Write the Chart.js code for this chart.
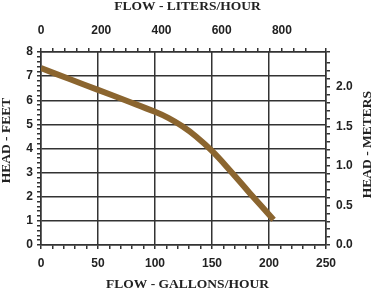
<!DOCTYPE html>
<html><head><meta charset="utf-8">
<script src="https://cdn.jsdelivr.net/npm/chart.js@4/dist/chart.umd.min.js"></script>
<style>html,body{margin:0;padding:0;background:#fff}#wrap{width:377px;height:293px}</style>
</head><body><div id="wrap"><canvas id="c" width="377" height="293"></canvas></div>
<script>
const flowGph = [0, 25, 50, 75, 100, 112, 124, 136, 150, 166, 183, 204];
const headFt  = [7.33, 6.88, 6.43, 5.98, 5.52, 5.26, 4.92, 4.50, 3.90, 3.08, 2.16, 1.05];
const gphTicks = [0, 50, 100, 150, 200, 250];
const ftTicks = [0, 1, 2, 3, 4, 5, 6, 7, 8];
const lphTicks = [0, 200, 400, 600, 800];
const mTicks = [0.0, 0.5, 1.0, 1.5, 2.0];
const titles = {
  top: 'FLOW - LITERS/HOUR',
  bottom: 'FLOW - GALLONS/HOUR',
  left: 'HEAD - FEET',
  right: 'HEAD - METERS'
};

const GPH_TO_LPH = 3.78541, FT_TO_M = 0.3048;
const INK = '#333';
const isMajor = (v, m) => Math.abs(v / m - Math.round(v / m)) < 1e-6;
const tickFont = {family: '"Liberation Sans", Arial, sans-serif', size: 12, weight: 'bold'};

const axisTitles = {
  id: 'axisTitles',
  afterDraw(chart) {
    const ctx = chart.ctx, a = chart.chartArea;
    const cx = (a.left + a.right) / 2 + 4, cy = (a.top + a.bottom) / 2;
    ctx.save();
    ctx.font = 'bold 13.5px "Liberation Serif", "Times New Roman", serif';
    ctx.fillStyle = '#222';
    ctx.textAlign = 'center';
    ctx.textBaseline = 'middle';
    ctx.fillText(titles.top, cx, 6.5);
    ctx.fillText(titles.bottom, cx, 285);
    ctx.save();
    ctx.translate(7, cy - 8);
    ctx.rotate(-Math.PI / 2);
    ctx.fillText(titles.left, 0, 0);
    ctx.restore();
    ctx.save();
    ctx.translate(368, cy - 4);
    ctx.rotate(-Math.PI / 2);
    ctx.fillText(titles.right, 0, 0);
    ctx.restore();
    ctx.restore();
  }
};

new Chart(document.getElementById('c'), {
  type: 'scatter',
  data: {
    datasets: [{
      data: flowGph.map((x, i) => ({x, y: headFt[i]})),
      showLine: true,
      borderColor: '#8B652F',
      borderWidth: 6,
      pointRadius: 0,
      tension: 0.4,
      xAxisID: 'x', yAxisID: 'y'
    }]
  },
  options: {
    responsive: false,
    animation: false,
    layout: {padding: 0},
    plugins: {legend: {display: false}, tooltip: {enabled: false}},
    scales: {
      x: {
        type: 'linear', position: 'bottom', min: 0, max: gphTicks[gphTicks.length - 1],
        afterFit: s => { s.height = 48; },
        ticks: {stepSize: 10, autoSkip: false, maxRotation: 0, padding: 7, color: '#222', font: tickFont,
          callback: v => gphTicks.includes(v) ? String(v) : ''},
        grid: {color: c => isMajor(c.tick.value, 50) ? INK : 'rgba(0,0,0,0)', tickColor: INK, lineWidth: 1.5, tickLength: 4},
        border: {color: INK, width: 1.5}
      },
      x2: {
        type: 'linear', position: 'top', min: 0, max: 250 * GPH_TO_LPH,
        afterFit: s => { s.height = 52; },
        ticks: {stepSize: 40, autoSkip: false, maxRotation: 0, padding: 10, color: '#222', font: tickFont,
          callback: v => lphTicks.includes(v) ? String(v) : ''},
        grid: {drawOnChartArea: false, tickColor: INK, lineWidth: 1.5, tickLength: 4},
        border: {color: INK, width: 1.5}
      },
      y: {
        type: 'linear', position: 'left', min: 0, max: ftTicks[ftTicks.length - 1],
        afterFit: s => { s.width = 41; },
        ticks: {stepSize: 0.2, autoSkip: false, padding: 4, color: '#222', font: tickFont,
          callback: v => ftTicks.some(t => Math.abs(t - v) < 1e-6) ? String(Math.round(v)) : ''},
        grid: {color: c => isMajor(c.tick.value, 1) ? INK : 'rgba(0,0,0,0)', tickColor: INK, lineWidth: 1.5, tickLength: 4},
        border: {color: INK, width: 1.5}
      },
      y2: {
        type: 'linear', position: 'right', min: 0, max: 8 * FT_TO_M,
        afterFit: s => { s.width = 51; },
        ticks: {stepSize: 0.1, autoSkip: false, padding: 6, color: '#222', font: tickFont,
          callback: v => mTicks.some(t => Math.abs(t - v) < 1e-6) ? v.toFixed(1) : ''},
        grid: {drawOnChartArea: false, tickColor: INK, lineWidth: 1.5, tickLength: 4},
        border: {color: INK, width: 1.5}
      }
    }
  },
  plugins: [axisTitles]
});
</script></body></html>
